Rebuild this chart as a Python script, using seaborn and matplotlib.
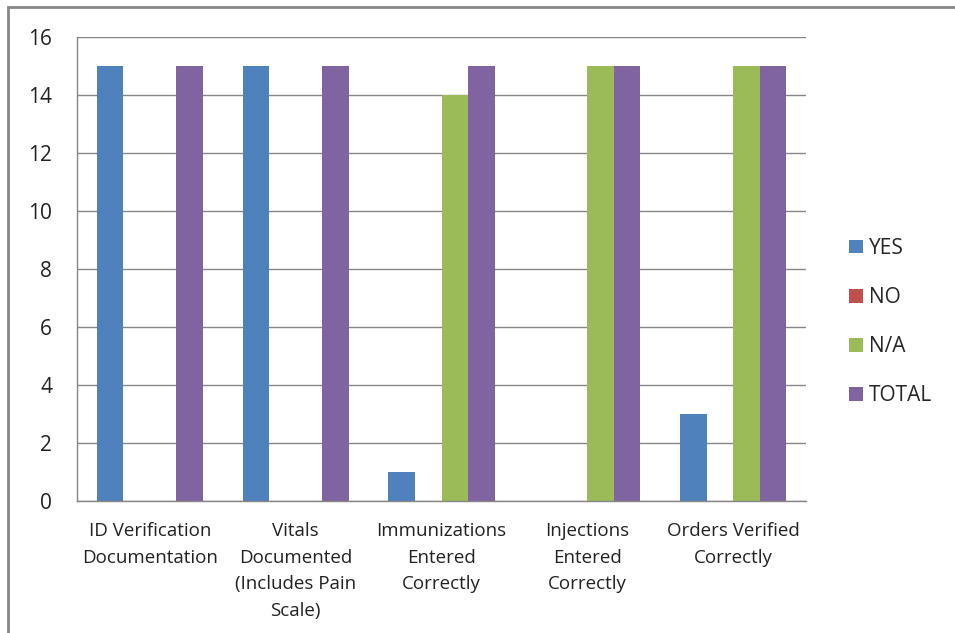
import matplotlib
matplotlib.use("Agg")
import matplotlib.pyplot as plt
import matplotlib.patches as mpatches
import seaborn as sns
import pandas as pd
import numpy as np

categories = ["ID Verification\nDocumentation",
              "Vitals\nDocumented\n(Includes Pain\nScale)",
              "Immunizations\nEntered\nCorrectly",
              "Injections\nEntered\nCorrectly",
              "Orders Verified\nCorrectly"]
series = ["YES", "NO", "N/A", "TOTAL"]
yes_vals = [15, 15, 1, 0, 3]
no_vals = [0, 0, 0, 0, 0]
na_vals = [0, 0, 14, 15, 15]
total_vals = [15, 15, 15, 15, 15]
colors = ["#4F81BD", "#C0504D", "#9BBB59", "#8064A2"]
y_ticks = [0, 2, 4, 6, 8, 10, 12, 14, 16]

rows = []
for s, vals in zip(series, [yes_vals, no_vals, na_vals, total_vals]):
    for c, v in zip(categories, vals):
        rows.append({"Category": c, "Series": s, "Value": v})
df = pd.DataFrame(rows)

sns.set_style("white")
plt.rcParams['font.family'] = ['Open Sans', 'DejaVu Sans']

fig = plt.figure(figsize=(9.55, 6.33), dpi=100)
ax = fig.add_axes([77/955, 1-501/633, (806-77)/955, (501-37)/633])

sns.barplot(data=df, x="Category", y="Value", hue="Series", order=categories,
            hue_order=series, palette=colors, width=4/5.5, gap=0,
            saturation=1, edgecolor="none", linewidth=0, ax=ax, legend=False)

ax.set_ylim(0, 16)
ax.set_xlim(-0.5, len(categories) - 0.5)
ax.set_yticks(y_ticks)
ax.set_yticklabels([str(t) for t in y_ticks], fontsize=15, color="#222222")
ax.set_xlabel("")
ax.set_ylabel("")
ax.set_xticks(range(len(categories)))
ax.set_xticklabels(categories, fontsize=13.5, color="#222222", linespacing=1.62)
ax.set_xticks(np.arange(-0.5, len(categories), 1.0), minor=True)
ax.tick_params(axis="x", which="major", length=0, pad=15)
ax.tick_params(axis="x", which="minor", length=8, width=1, color="#868686", direction="out")
ax.tick_params(axis="y", which="major", length=8, width=1, color="#868686", direction="out", pad=10)
ax.set_axisbelow(True)
ax.yaxis.grid(True, color="#868686", linewidth=1)
ax.xaxis.grid(False)
for side in ["top", "right"]:
    ax.spines[side].set_visible(False)
for side in ["left", "bottom"]:
    ax.spines[side].set_color("#868686")
    ax.spines[side].set_linewidth(1)

handles = [mpatches.Patch(facecolor=c, edgecolor="none", label=s) for c, s in zip(colors, series)]
fig.legend(handles=handles, loc="center left", bbox_to_anchor=(839/955, 1-322/633),
           frameon=False, fontsize=15, handlelength=0.65, handleheight=0.65,
           handletextpad=0.3, labelspacing=1.35, borderpad=0)

border = mpatches.Rectangle((8/955, -0.1), 1.2, 1 - 7/633 + 0.1, transform=fig.transFigure,
                            fill=False, edgecolor="#878787", linewidth=2)
fig.patches.append(border)

fig.savefig("out.png", dpi=100)
